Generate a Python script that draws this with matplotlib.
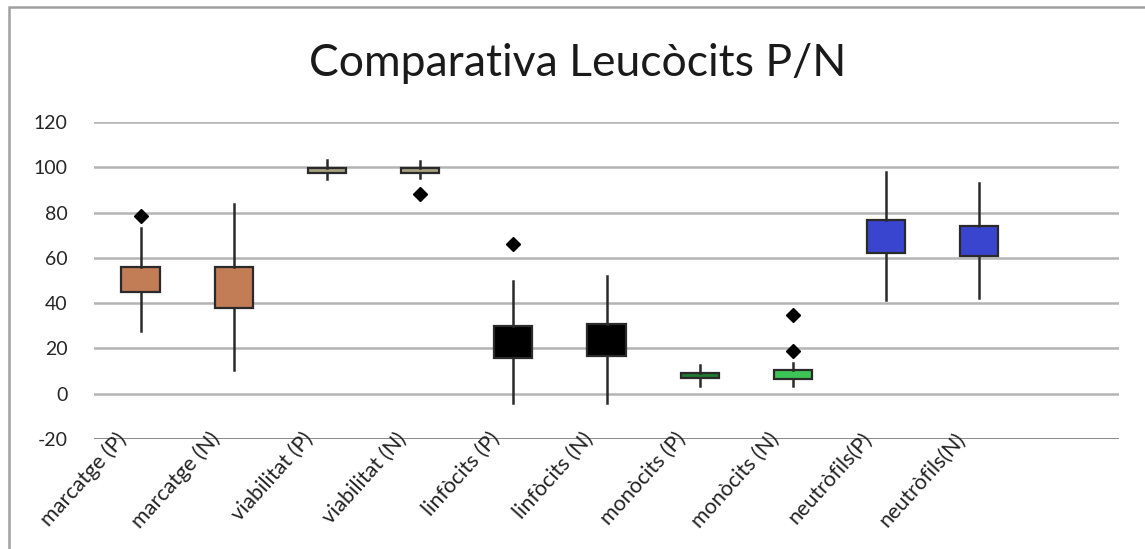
import matplotlib
matplotlib.use("Agg")
import matplotlib.pyplot as plt
from matplotlib.patches import Rectangle
import numpy as np

# ---- data ----
categories = ['marcatge (P)', 'marcatge (N)', 'viabilitat (P)', 'viabilitat (N)',
              'linfòcits (P)', 'linfòcits (N)', 'monòcits (P)', 'monòcits (N)',
              'neutròfils(P)', 'neutròfils(N)']
q1 = [44.9, 37.8, 97.4, 97.4, 15.7, 16.8, 6.8, 6.6, 62.1, 60.6]
q3 = [55.9, 56.0, 99.8, 99.8, 30.0, 30.9, 9.1, 10.5, 76.8, 73.9]
whisker_lo = [27.5, 10.6, 94.8, 95.2, -4.1, -4.1, 3.2, 3.2, 41.2, 42.2]
whisker_hi = [73.2, 83.9, 103.2, 102.9, 49.6, 52.2, 12.8, 13.5, 97.7, 93.0]
outliers = [[78.3], [], [], [88.2], [66.2], [], [], [34.9, 18.7], [], []]
box_colors = ['#C27C56', '#C27C56', '#A8A283', '#A8A283', '#000000', '#000000',
              '#1F7A30', '#3CC454', '#3A45CF', '#3A45CF']
yticks = [-20, 0, 20, 40, 60, 80, 100, 120]
title = 'Comparativa Leucòcits P/N'

plt.rcParams['font.family'] = ['Lato', 'DejaVu Sans']
plt.rcParams['axes.unicode_minus'] = False

fig = plt.figure(figsize=(11.45, 5.49), dpi=100)
W, H = 1145, 549
ax = fig.add_axes([94 / W, 1 - 439 / H, (1119 - 94) / W, (439 - 122) / H])

stats = []
for i in range(len(categories)):
    stats.append(dict(q1=q1[i], q3=q3[i], med=q1[i], whislo=whisker_lo[i],
                      whishi=whisker_hi[i], fliers=outliers[i], label=categories[i]))

bp = ax.bxp(stats, positions=np.arange(len(categories)), widths=0.41,
            patch_artist=True, showcaps=False,
            boxprops=dict(edgecolor='#2a2a2a', linewidth=1.6),
            whiskerprops=dict(color='#2a2a2a', linewidth=1.8),
            medianprops=dict(linewidth=0),
            flierprops=dict(marker='D', markerfacecolor='black', markeredgecolor='black',
                            markersize=7.5),
            zorder=3)
for patch, c in zip(bp['boxes'], box_colors):
    patch.set_facecolor(c)

ax.set_xlim(-0.5, 10.5)
ax.set_ylim(-20, 120)
ax.set_yticks(yticks)
ax.yaxis.grid(True, color='#b4b4b4', linewidth=1.8)
ax.set_axisbelow(True)
for s in ['top', 'right', 'left', 'bottom']:
    ax.spines[s].set_visible(False)
ax.axhline(-20, color='#7a7a7a', linewidth=1.8, zorder=2)
ax.tick_params(axis='y', length=0, pad=19, labelsize=14, labelcolor='#262626')
ax.tick_params(axis='x', length=0)
ax.set_xticks(np.arange(len(categories)))
ax.set_xticklabels([])

for i, lab in enumerate(categories):
    ax.annotate(lab, xy=(i, -20), xycoords='data', xytext=(-12.5, 2.5),
                textcoords='offset points', rotation=48, rotation_mode='anchor',
                ha='right', va='center', fontsize=15.5, color='#222222')

fig.text(578 / W, 1 - 63 / H, title, ha='center', va='center', fontsize=32, color='#1a1a1a')

# outer chart frame (partly cropped in the reference)
fig.patches.append(Rectangle((9 / W, -0.1), 1.2, 1.1 - 7 / H, transform=fig.transFigure,
                             fill=False, edgecolor='#a0a0a0', linewidth=1.8))

fig.savefig('out.png', dpi=100)
